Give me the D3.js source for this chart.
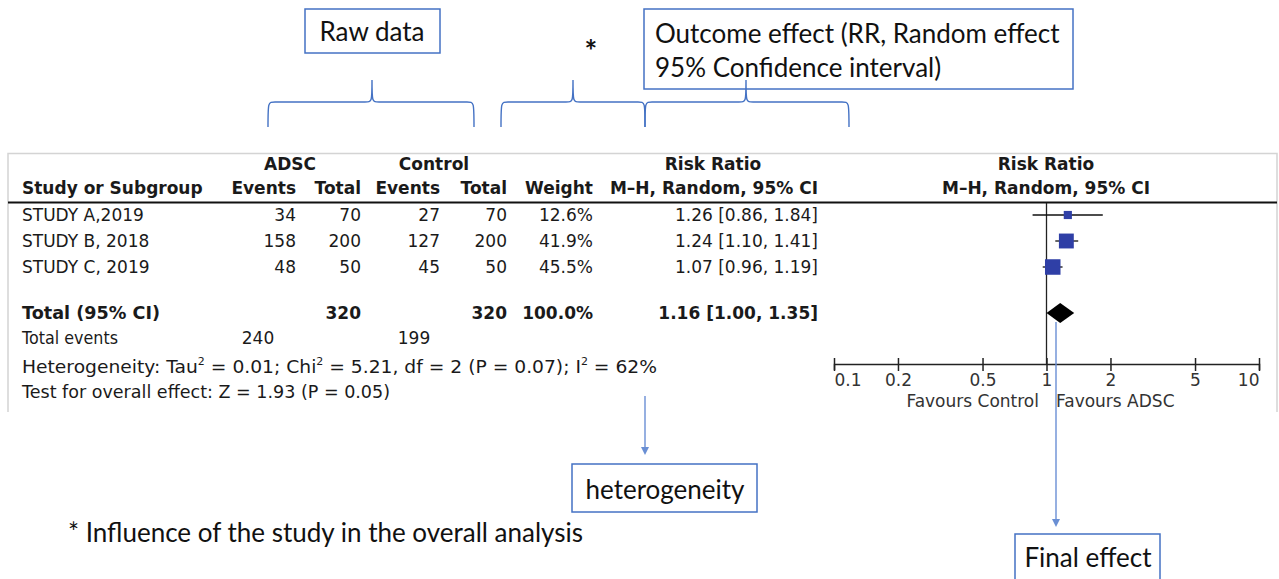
<!DOCTYPE html>
<html>
<head>
<meta charset="utf-8">
<script src="https://cdn.jsdelivr.net/npm/d3@7"></script>
<style>
  body { margin: 0; background: #fff; }
  svg { display: block; }
  .tbl { font-family: "DejaVu Sans", sans-serif; font-size: 17px; fill: #1a1a1a; }
  .note { font-family: Lato, "Liberation Sans", sans-serif; font-size: 26px; fill: #111; }
</style>
</head>
<body>
<div id="chart"></div>
<script>
////////////////////////////////////////////////////////////////////////
// Data

const studies = ["STUDY A,2019", "STUDY B, 2018", "STUDY C, 2019"];
const adscEvents = [34, 158, 48];
const adscTotal = [70, 200, 50];
const controlEvents = [27, 127, 45];
const controlTotal = [70, 200, 50];
const weights = [12.6, 41.9, 45.5];
const riskRatio = [1.26, 1.24, 1.07];
const ciLow = [0.86, 1.10, 0.96];
const ciHigh = [1.84, 1.41, 1.19];

const pooled = [1.16, 1.00, 1.35];          // RR, lower, upper
const pooledTotals = [320, 320];
const totalEvents = [240, 199];
const axisTicks = [0.1, 0.2, 0.5, 1, 2, 5, 10];

const heterogeneity = { tau2: "0.01", chi2: "5.21", df: 2, p: "0.07", i2: "62%" };
const overallTest = { z: "1.93", p: "0.05" };

////////////////////////////////////////////////////////////////////////
// Layout

const width = 1279, height = 579;
const blue = "#4472c4";
const arrowBlue = "#6a8fd4";

// right edges of the table columns
const col = { ev1: 296, tot1: 361, ev2: 440, tot2: 507, weight: 593, ci: 818 };

const svg = d3.select("#chart")
  .append("svg")
  .attr("width", width)
  .attr("height", height);

const xScale = d3.scaleLog().domain([0.1, 10]).range([834, 1259]);
const rowY = d3.scaleLinear().domain([0, 1]).range([215, 241]);
const boxSize = d3.scaleSqrt().domain([0, 100]).range([0, 23]);

// table frame
svg.append("path")
  .attr("d", "M8,412 V153.5 H1277 V412")
  .attr("stroke", "#d4d4d4")
  .attr("stroke-width", 1.5)
  .attr("fill", "none");

// header rule
svg.append("line")
  .attr("x1", 8).attr("x2", 1277)
  .attr("y1", 202.5).attr("y2", 202.5)
  .attr("stroke", "#111").attr("stroke-width", 2);

const tbl = svg.append("g").attr("class", "tbl");

function txt(x, y, s, anchor, bold) {
  return tbl.append("text")
    .attr("x", x).attr("y", y)
    .attr("dominant-baseline", "central")
    .attr("text-anchor", anchor || "start")
    .attr("font-weight", bold ? "bold" : null)
    .text(s);
}

// headers
txt(290, 164, "ADSC", "middle", true);
txt(434, 164, "Control", "middle", true);
txt(713, 164, "Risk Ratio", "middle", true);
txt(1046, 164, "Risk Ratio", "middle", true);
txt(22, 188, "Study or Subgroup", "start", true);
txt(col.ev1, 188, "Events", "end", true);
txt(col.tot1, 188, "Total", "end", true);
txt(col.ev2, 188, "Events", "end", true);
txt(col.tot2, 188, "Total", "end", true);
txt(col.weight, 188, "Weight", "end", true);
txt(col.ci, 188, "M\u2013H, Random, 95% CI", "end", true);
txt(1046, 188, "M\u2013H, Random, 95% CI", "middle", true);

// study rows
studies.forEach((s, i) => {
  const y = rowY(i);
  txt(22, y, s);
  txt(col.ev1, y, adscEvents[i], "end");
  txt(col.tot1, y, adscTotal[i], "end");
  txt(col.ev2, y, controlEvents[i], "end");
  txt(col.tot2, y, controlTotal[i], "end");
  txt(col.weight, y, weights[i].toFixed(1) + "%", "end");
  txt(col.ci, y, `${riskRatio[i].toFixed(2)} [${ciLow[i].toFixed(2)}, ${ciHigh[i].toFixed(2)}]`, "end");
});

// total row
const yTot = 313;
txt(22, yTot, "Total (95% CI)", "start", true)
  .attr("textLength", 138).attr("lengthAdjust", "spacingAndGlyphs");
txt(col.tot1, yTot, pooledTotals[0], "end", true);
txt(col.tot2, yTot, pooledTotals[1], "end", true);
txt(col.weight, yTot, d3.sum(weights).toFixed(1) + "%", "end", true);
txt(col.ci, yTot, `${pooled[0].toFixed(2)} [${pooled[1].toFixed(2)}, ${pooled[2].toFixed(2)}]`, "end", true);

txt(22, 338, "Total events")
  .attr("textLength", 96).attr("lengthAdjust", "spacingAndGlyphs");
txt(258, 338, totalEvents[0], "middle");
txt(414, 338, totalEvents[1], "middle");

// heterogeneity line with superscripts
const het = tbl.append("text")
  .attr("x", 22).attr("y", 367)
  .attr("dominant-baseline", "central")
  .attr("textLength", 635)
  .attr("lengthAdjust", "spacingAndGlyphs");
const sup = t => het.append("tspan").attr("font-size", 10).attr("dy", -6).text(t);
const norm = t => het.append("tspan").attr("dy", 6).text(t);
het.append("tspan").text("Heterogeneity: Tau");
sup("2");
norm(` = ${heterogeneity.tau2}; Chi`);
sup("2");
norm(` = ${heterogeneity.chi2}, df = ${heterogeneity.df} (P = ${heterogeneity.p}); I`);
sup("2");
norm(` = ${heterogeneity.i2}`);

txt(22, 392, `Test for overall effect: Z = ${overallTest.z} (P = ${overallTest.p})`)
  .attr("textLength", 368)
  .attr("lengthAdjust", "spacingAndGlyphs");

////////////////////////////////////////////////////////////////////////
// Forest plot

const axisY = 364;
const forest = svg.append("g");

forest.append("line")
  .attr("x1", xScale(1)).attr("x2", xScale(1))
  .attr("y1", 203).attr("y2", axisY)
  .attr("stroke", "#222").attr("stroke-width", 1.3);

forest.selectAll("line.ci")
  .data(studies)
  .join("line")
  .attr("class", "ci")
  .attr("x1", (d, i) => xScale(ciLow[i]))
  .attr("x2", (d, i) => xScale(ciHigh[i]))
  .attr("y1", (d, i) => rowY(i))
  .attr("y2", (d, i) => rowY(i))
  .attr("stroke", "#111").attr("stroke-width", 1.3);

forest.selectAll("rect.box")
  .data(studies)
  .join("rect")
  .attr("class", "box")
  .attr("x", (d, i) => xScale(riskRatio[i]) - boxSize(weights[i]) / 2)
  .attr("y", (d, i) => rowY(i) - boxSize(weights[i]) / 2)
  .attr("width", (d, i) => boxSize(weights[i]))
  .attr("height", (d, i) => boxSize(weights[i]))
  .attr("fill", "#2f3fa6");

const dh = 10;
forest.append("path")
  .attr("d", `M${xScale(pooled[1])},${yTot} L${xScale(pooled[0])},${yTot - dh} L${xScale(pooled[2])},${yTot} L${xScale(pooled[0])},${yTot + dh} Z`)
  .attr("fill", "#000");

const axis = forest.append("g")
  .attr("transform", `translate(0,${axisY})`)
  .call(d3.axisBottom(xScale)
    .tickValues(axisTicks)
    .tickFormat(d3.format("~g"))
    .tickSizeOuter(0)
    .tickSize(6)
    .tickPadding(8));
axis.select(".domain").attr("stroke", "#222").attr("stroke-width", 1.5);
axis.selectAll(".tick line")
  .attr("y1", -6).attr("y2", 7)
  .attr("stroke", "#222").attr("stroke-width", 1.5);
axis.selectAll(".tick text")
  .attr("font-family", "DejaVu Sans, sans-serif")
  .attr("font-size", 17)
  .attr("fill", "#333")
  .attr("dy", "0.35em")
  .attr("y", 16)
  .attr("text-anchor", (d, i) => i === 0 ? "start" : i === axisTicks.length - 1 ? "end" : "middle");

txt(1039, 401, "Favours Control", "end").attr("fill", "#333");
txt(1056, 401, "Favours ADSC", "start").attr("fill", "#333");

////////////////////////////////////////////////////////////////////////
// Annotations

const notes = svg.append("g");

function noteBox(x0, y0, w, h) {
  notes.append("rect")
    .attr("x", x0).attr("y", y0)
    .attr("width", w).attr("height", h)
    .attr("fill", "#fff")
    .attr("stroke", blue).attr("stroke-width", 1.5);
}
function noteText(x, y, s, anchor) {
  return notes.append("text")
    .attr("class", "note")
    .attr("x", x).attr("y", y)
    .attr("dominant-baseline", "central")
    .attr("text-anchor", anchor || "start")
    .text(s);
}
function brace(x0, x1, tip) {
  const yTop = 80, yMid = 102, yBot = 127, r = 7;
  const p = `M${x0},${yBot} C${x0},${yMid} ${x0},${yMid} ${x0 + r},${yMid}
    L${tip - r},${yMid} C${tip},${yMid} ${tip},${yMid} ${tip},${yTop}
    C${tip},${yMid} ${tip},${yMid} ${tip + r},${yMid}
    L${x1 - r},${yMid} C${x1},${yMid} ${x1},${yMid} ${x1},${yBot}`;
  notes.append("path").attr("d", p)
    .attr("fill", "none").attr("stroke", blue).attr("stroke-width", 1.4);
}
function arrow(x, y0, y1) {
  notes.append("line")
    .attr("x1", x).attr("x2", x).attr("y1", y0).attr("y2", y1 - 6)
    .attr("stroke", arrowBlue).attr("stroke-width", 1.4);
  notes.append("path")
    .attr("d", `M${x - 4},${y1 - 8} L${x + 4},${y1 - 8} L${x},${y1} Z`)
    .attr("fill", arrowBlue);
}

noteBox(305, 9, 135, 44);
noteText(372, 31, "Raw data", "middle");

noteBox(644, 9, 429, 80);
noteText(655, 33, "Outcome effect (RR, Random effect");
noteText(655, 67, "95% Confidence interval)");

notes.append("text")
  .attr("class", "note")
  .attr("x", 591).attr("y", 62)
  .attr("text-anchor", "middle")
  .attr("font-weight", "bold")
  .style("font-size", "30px")
  .text("*");

brace(268, 474, 372);
brace(501, 645, 573);
brace(645, 849, 746);

arrow(645, 396, 455);
noteBox(572, 464, 185, 48);
noteText(665, 489, "heterogeneity", "middle");

noteText(68, 532, "* Influence of the study in the overall analysis");

arrow(1056, 322, 527);
noteBox(1015, 534, 145, 46);
noteText(1088, 557, "Final effect", "middle");
</script>
</body>
</html>
